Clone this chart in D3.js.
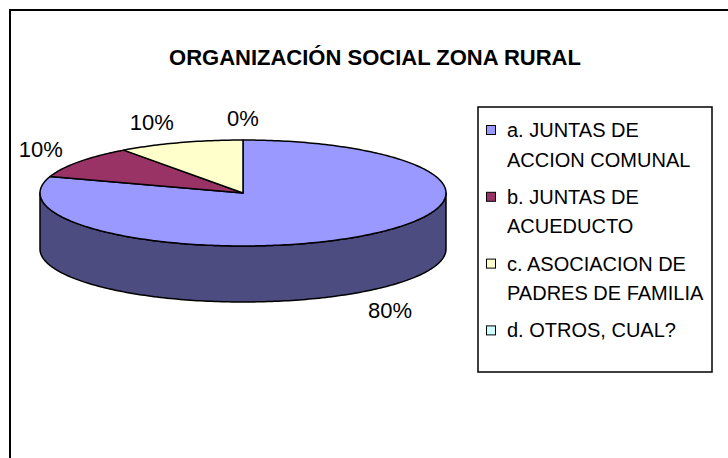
<!DOCTYPE html>
<html>
<head>
<meta charset="utf-8">
<script src="https://cdn.jsdelivr.net/npm/d3@7"></script>
<style>
body{margin:0;background:#fff}
svg{display:block;font-family:"Liberation Sans",Arial,sans-serif}
</style>
</head>
<body>
<div id="chart"></div>
<script>
var WIDTH = 728
var HEIGHT = 458

// data
var title = "ORGANIZACIÓN SOCIAL ZONA RURAL"
var categories = ["a. JUNTAS DE ACCION COMUNAL", "b. JUNTAS DE ACUEDUCTO", "c. ASOCIACION DE PADRES DE FAMILIA", "d. OTROS, CUAL?"]
var legendLines = [["a. JUNTAS DE", "ACCION COMUNAL"], ["b. JUNTAS DE", "ACUEDUCTO"], ["c. ASOCIACION DE", "PADRES DE FAMILIA"], ["d. OTROS, CUAL?"]]
var values = [80, 10, 10, 0]
var topColors = ["#9999ff", "#993366", "#ffffcc", "#ccffff"]
var sideColors = ["#4c4c80", "#4d1a33", "#808066", "#668080"]

// layout
var cx = 243, cy = 193, rx = 203, ry = 53, depth = 56
var labelRx = 250, labelRy = 75
var labelNudge = [0, 0, -14, 0]

var svg = d3.select("#chart").append("svg")
	.attr("width", WIDTH)
	.attr("height", HEIGHT)

svg.append("rect").attr("width", WIDTH).attr("height", HEIGHT).attr("fill", "#fff")

// outer chart frame (runs off the right and bottom edge)
svg.append("rect")
	.attr("x", 10).attr("y", 10)
	.attr("width", 760).attr("height", 500)
	.attr("fill", "none").attr("stroke", "#000").attr("stroke-width", 2)

svg.append("text")
	.attr("x", 375).attr("y", 65)
	.attr("text-anchor", "middle")
	.attr("font-size", 22).attr("font-weight", "bold")
	.text(title)

var xs = d3.scaleLinear().domain([-1, 1]).range([cx - rx, cx + rx])
var ys = d3.scaleLinear().domain([-1, 1]).range([cy + ry, cy - ry])

function pt(a, dy) {
	return [xs(Math.sin(a)), ys(Math.cos(a)) + (dy || 0)]
}

function arcPoints(a0, a1, dy) {
	var n = Math.max(2, Math.ceil(Math.abs(a1 - a0) / (Math.PI / 180)))
	var pts = []
	for (var i = 0; i <= n; i++) {
		pts.push(pt(a0 + (a1 - a0) * i / n, dy))
	}
	return pts
}

var line = d3.line()

var arcs = d3.pie().sort(null).value(function(d) { return d })(values)

// side walls (front half only)
var g = svg.append("g")
arcs.forEach(function(d, i) {
	var a0 = Math.max(d.startAngle, Math.PI / 2)
	var a1 = Math.min(d.endAngle, Math.PI * 3 / 2)
	if (a1 <= a0) return
	var pts = arcPoints(a0, a1, 0).concat(arcPoints(a1, a0, depth))
	g.append("path")
		.attr("d", line(pts) + "Z")
		.attr("fill", sideColors[i])
		.attr("stroke", "#000").attr("stroke-width", 1.5)
		.attr("stroke-linejoin", "round")
})

// top faces
arcs.forEach(function(d, i) {
	if (d.endAngle - d.startAngle <= 0) return
	var pts = [[cx, cy]].concat(arcPoints(d.startAngle, d.endAngle, 0))
	g.append("path")
		.attr("d", line(pts) + "Z")
		.attr("fill", topColors[i])
		.attr("stroke", "#000").attr("stroke-width", 1.5)
		.attr("stroke-linejoin", "round")
})

// percentage labels
var total = d3.sum(values)
var fmt = d3.format(".0%")
arcs.forEach(function(d, i) {
	var mid = (d.startAngle + d.endAngle) / 2
	var x = cx + labelRx * Math.sin(mid) + labelNudge[i]
	var y = cy - labelRy * Math.cos(mid) + (Math.cos(mid) < 0 ? depth : 0)
	svg.append("text")
		.attr("x", x).attr("y", y + 8)
		.attr("text-anchor", "middle")
		.attr("font-size", 22)
		.text(fmt(d.data / total))
})

// legend
var legend = svg.append("g")
legend.append("rect")
	.attr("x", 478).attr("y", 107)
	.attr("width", 234).attr("height", 265)
	.attr("fill", "#fff").attr("stroke", "#000").attr("stroke-width", 1.5)

legendLines.forEach(function(lines, i) {
	var by = 137 + i * 66.8
	legend.append("rect")
		.attr("x", 486.5).attr("y", by - 11.5)
		.attr("width", 9).attr("height", 9)
		.attr("fill", topColors[i]).attr("stroke", "#000").attr("stroke-width", 1)
	lines.forEach(function(t, j) {
		legend.append("text")
			.attr("x", 507).attr("y", by + j * 29.5)
			.attr("font-size", 20)
			.text(t)
	})
})
</script>
</body>
</html>
